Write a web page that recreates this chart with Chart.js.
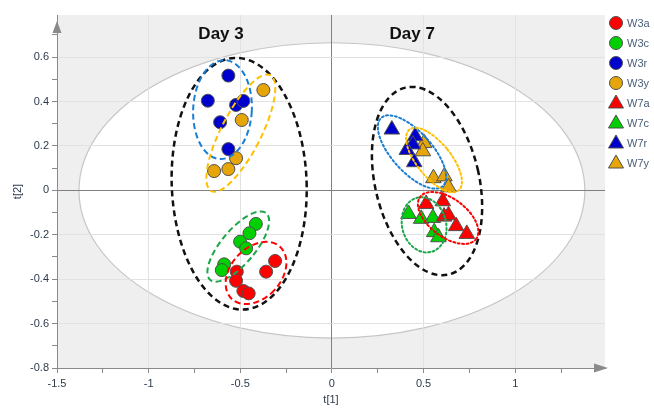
<!DOCTYPE html>
<html>
<head>
<meta charset="utf-8">
<script src="https://cdn.jsdelivr.net/npm/chart.js@4.4.1/dist/chart.umd.min.js"></script>
<style>
  html, body { margin: 0; padding: 0; background: #fff; }
  #wrap { width: 654px; height: 409px; }
</style>
</head>
<body>
<div id="wrap"><canvas id="scorePlot"></canvas></div>
<script>
// groups and their score values, t[1] and t[2]
const groupNames = ["W3a", "W3c", "W3r", "W3y", "W7a", "W7c", "W7r", "W7y"];

const w3aT1 = [-0.310, -0.359, -0.519, -0.523, -0.483, -0.454];
const w3aT2 = [-0.318, -0.366, -0.366, -0.407, -0.453, -0.464];
const w3cT1 = [-0.415, -0.450, -0.501, -0.468, -0.588, -0.601];
const w3cT2 = [-0.151, -0.193, -0.231, -0.261, -0.333, -0.359];
const w3rT1 = [-0.565, -0.677, -0.523, -0.483, -0.610, -0.565];
const w3rT2 = [0.517, 0.404, 0.385, 0.403, 0.307, 0.186];
const w3yT1 = [-0.374, -0.492, -0.523, -0.565, -0.643];
const w3yT2 = [0.452, 0.317, 0.145, 0.096, 0.087];

const w7aT1 = [0.514, 0.605, 0.612, 0.636, 0.678, 0.736];
const w7aT2 = [-0.061, -0.049, -0.118, -0.112, -0.161, -0.196];
const w7cT1 = [0.418, 0.487, 0.551, 0.558, 0.581];
const w7cT2 = [-0.106, -0.128, -0.124, -0.188, -0.211];
const w7rT1 = [0.327, 0.454, 0.442, 0.409, 0.449];
const w7rT2 = [0.274, 0.244, 0.207, 0.182, 0.127];
const w7yT1 = [0.503, 0.496, 0.554, 0.614, 0.636];
const w7yT2 = [0.213, 0.176, 0.055, 0.063, 0.014];

// tick labels
const xTickLabels = [-1.5, -1, -0.5, 0, 0.5, 1];
const yTickLabels = [-0.8, -0.6, -0.4, -0.2, 0, 0.2, 0.4, 0.6];

const t1Values = [w3aT1, w3cT1, w3rT1, w3yT1, w7aT1, w7cT1, w7rT1, w7yT1];
const t2Values = [w3aT2, w3cT2, w3rT2, w3yT2, w7aT2, w7cT2, w7rT2, w7yT2];
const groupColors = ["#ff0000", "#00d000", "#0000cc", "#e6a60a", "#ff0000", "#00d000", "#0000cc", "#e6a60a"];

// hotelling T2 ellipse and the hand drawn group rings (data units)
const hotelling = { x: 0, y: 0, rx: 1.38, ry: 0.665 };
const rings = [
  { x: -0.506, y: 0.030, rx: 0.368, ry: 0.567, rot: -2, color: "#111111", dash: [6, 4], width: 2.5 },
  { x: -0.597, y: 0.364, rx: 0.160, ry: 0.223, rot: 3, color: "#1a7fd4", dash: [6, 3.5], width: 2 },
  { x: -0.497, y: 0.258, rx: 0.109, ry: 0.293, rot: 27, color: "#ffc000", dash: [6, 3.5], width: 2 },
  { x: -0.511, y: -0.253, rx: 0.093, ry: 0.196, rot: 40, color: "#1aa84a", dash: [6, 3.5], width: 2 },
  { x: -0.414, y: -0.372, rx: 0.137, ry: 0.160, rot: 43, color: "#ff0000", dash: [6, 3.5], width: 2 },
  { x: 0.519, y: 0.042, rx: 0.284, ry: 0.432, rot: -13, color: "#111111", dash: [6, 4], width: 2.5 },
  { x: 0.437, y: 0.173, rx: 0.109, ry: 0.207, rot: -42, color: "#1a7fd4", dash: [2, 2.5], width: 2 },
  { x: 0.557, y: 0.137, rx: 0.093, ry: 0.176, rot: -39, color: "#ffc000", dash: [2, 2.5], width: 2 },
  { x: 0.503, y: -0.155, rx: 0.120, ry: 0.126, rot: -15, color: "#1aa84a", dash: [2, 2.5], width: 2 },
  { x: 0.634, y: -0.124, rx: 0.191, ry: 0.086, rot: 37, color: "#ff0000", dash: [2, 2.5], width: 2 }
];
const dayLabels = [
  { text: "Day 3", x: -0.605, y: 0.705 },
  { text: "Day 7", x: 0.438, y: 0.705 }
];

const FONT = "'Liberation Sans', Arial, sans-serif";

const datasets = groupNames.map((name, i) => ({
  label: name,
  data: t1Values[i].map((v, j) => ({ x: v, y: t2Values[i][j] })),
  backgroundColor: groupColors[i],
  borderColor: "#505050",
  borderWidth: 1,
  pointStyle: name.startsWith("W3") ? "circle" : "triangle",
  pointRadius: name.startsWith("W3") ? 6.5 : 9,
  pointHoverRadius: name.startsWith("W3") ? 6.5 : 9
}));

function ellipsePath(ctx, chart, e) {
  const xs = chart.scales.x, ys = chart.scales.y;
  const cx = xs.getPixelForValue(e.x), cy = ys.getPixelForValue(e.y);
  const rx = Math.abs(xs.getPixelForValue(e.x + e.rx) - cx);
  const ry = Math.abs(ys.getPixelForValue(e.y + e.ry) - cy);
  ctx.beginPath();
  ctx.ellipse(cx, cy, rx, ry, (e.rot || 0) * Math.PI / 180, 0, Math.PI * 2);
}

function onStep(v, step) {
  const k = v / step;
  return Math.abs(k - Math.round(k)) < 1e-6;
}

// grey plot area with the white T2 ellipse
const backdrop = {
  id: "backdrop",
  beforeDraw(chart) {
    const { ctx, chartArea: a } = chart;
    ctx.save();
    ctx.fillStyle = "#efefef";
    ctx.fillRect(a.left, a.top, a.right - a.left, a.bottom - a.top);
    ctx.beginPath();
    ctx.rect(a.left, a.top, a.right - a.left, a.bottom - a.top);
    ctx.clip();
    ellipsePath(ctx, chart, hotelling);
    ctx.fillStyle = "#ffffff";
    ctx.fill();
    ctx.strokeStyle = "#c6c6c6";
    ctx.lineWidth = 1.2;
    ctx.stroke();
    ctx.restore();
  }
};

// rings, day labels, axis arrows, legend
const overlay = {
  id: "overlay",
  afterDatasetsDraw(chart) {
    const { ctx } = chart;
    ctx.save();
    rings.forEach(r => {
      ellipsePath(ctx, chart, r);
      ctx.setLineDash(r.dash);
      ctx.lineCap = r.dash[0] < 3 ? "round" : "butt";
      ctx.lineWidth = r.width;
      ctx.strokeStyle = r.color;
      ctx.stroke();
    });
    ctx.setLineDash([]);
    ctx.fillStyle = "#111111";
    ctx.font = "bold 17px " + FONT;
    ctx.textAlign = "center";
    ctx.textBaseline = "middle";
    dayLabels.forEach(d => {
      ctx.fillText(d.text, chart.scales.x.getPixelForValue(d.x), chart.scales.y.getPixelForValue(d.y));
    });
    ctx.restore();
  },
  afterDraw(chart) {
    const { ctx, chartArea: a } = chart;
    ctx.save();
    ctx.fillStyle = "#8a8a8a";
    // y axis arrow
    ctx.beginPath();
    ctx.moveTo(a.left, a.top + 6);
    ctx.lineTo(a.left - 4.5, a.top + 18);
    ctx.lineTo(a.left + 4.5, a.top + 18);
    ctx.closePath();
    ctx.fill();
    // x axis arrow
    ctx.beginPath();
    ctx.moveTo(a.right + 3, a.bottom);
    ctx.lineTo(a.right - 11, a.bottom - 4.5);
    ctx.lineTo(a.right - 11, a.bottom + 4.5);
    ctx.closePath();
    ctx.fill();

    // legend
    ctx.font = "11px " + FONT;
    ctx.textAlign = "left";
    ctx.textBaseline = "middle";
    chart.data.datasets.forEach((ds, i) => {
      const y = 23 + i * 20;
      const x = 616;
      ctx.fillStyle = ds.backgroundColor;
      ctx.strokeStyle = ds.borderColor;
      ctx.lineWidth = 1;
      ctx.beginPath();
      if (ds.pointStyle === "circle") {
        ctx.arc(x, y, 6.5, 0, Math.PI * 2);
      } else {
        ctx.moveTo(x, y - 8);
        ctx.lineTo(x + 7.5, y + 5);
        ctx.lineTo(x - 7.5, y + 5);
        ctx.closePath();
      }
      ctx.fill();
      ctx.stroke();
      ctx.fillStyle = "#4b6079";
      ctx.fillText(ds.label, 627, y + 0.5);
    });
    ctx.restore();
  }
};

const tickColor = "#2b3b4d";

new Chart(document.getElementById("scorePlot"), {
  type: "scatter",
  data: { datasets: datasets },
  options: {
    responsive: true,
    maintainAspectRatio: false,
    animation: false,
    events: [],
    layout: { padding: { top: 15, right: 49, left: 0, bottom: 0 } },
    plugins: { legend: { display: false }, tooltip: { enabled: false } },
    scales: {
      x: {
        type: "linear",
        min: -1.5,
        max: 1.49,
        afterBuildTicks: s => { s.ticks = s.ticks.filter(t => onStep(t.value, 0.25)); },
        afterFit: s => { s.height = 41; },
        ticks: {
          stepSize: 0.25,
          autoSkip: false,
          maxRotation: 0,
          padding: 4,
          color: tickColor,
          font: { family: FONT, size: 11 },
          callback: v => (xTickLabels.some(t => Math.abs(t - v) < 1e-6) ? String(Math.round(v * 10) / 10) : "")
        },
        grid: {
          color: c => (Math.abs(c.tick.value) < 1e-6 ? "#808080" : onStep(c.tick.value, 0.5) ? "#e2e2e2" : "rgba(0,0,0,0)"),
          tickColor: "#8a8a8a",
          tickLength: 5
        },
        border: { color: "#8a8a8a", width: 1 },
        title: { display: true, text: "t[1]", color: tickColor, font: { family: FONT, size: 11 }, padding: { top: 0, bottom: 2 } }
      },
      y: {
        type: "linear",
        min: -0.8,
        max: 0.79,
        afterBuildTicks: s => { s.ticks = s.ticks.filter(t => onStep(t.value, 0.1)); },
        afterFit: s => { s.width = 57; },
        ticks: {
          stepSize: 0.1,
          autoSkip: false,
          padding: 3,
          color: tickColor,
          font: { family: FONT, size: 11 },
          callback: v => (yTickLabels.some(t => Math.abs(t - v) < 1e-6) ? String(Math.round(v * 10) / 10) : "")
        },
        grid: {
          color: c => (Math.abs(c.tick.value) < 1e-6 ? "#808080" : onStep(c.tick.value, 0.2) ? "#e2e2e2" : "rgba(0,0,0,0)"),
          tickColor: "#8a8a8a",
          tickLength: 5
        },
        border: { color: "#8a8a8a", width: 1 },
        title: { display: true, text: "t[2]", color: tickColor, font: { family: FONT, size: 11 }, padding: { top: 11, bottom: 0 } }
      }
    }
  },
  plugins: [backdrop, overlay]
});
</script>
</body>
</html>
